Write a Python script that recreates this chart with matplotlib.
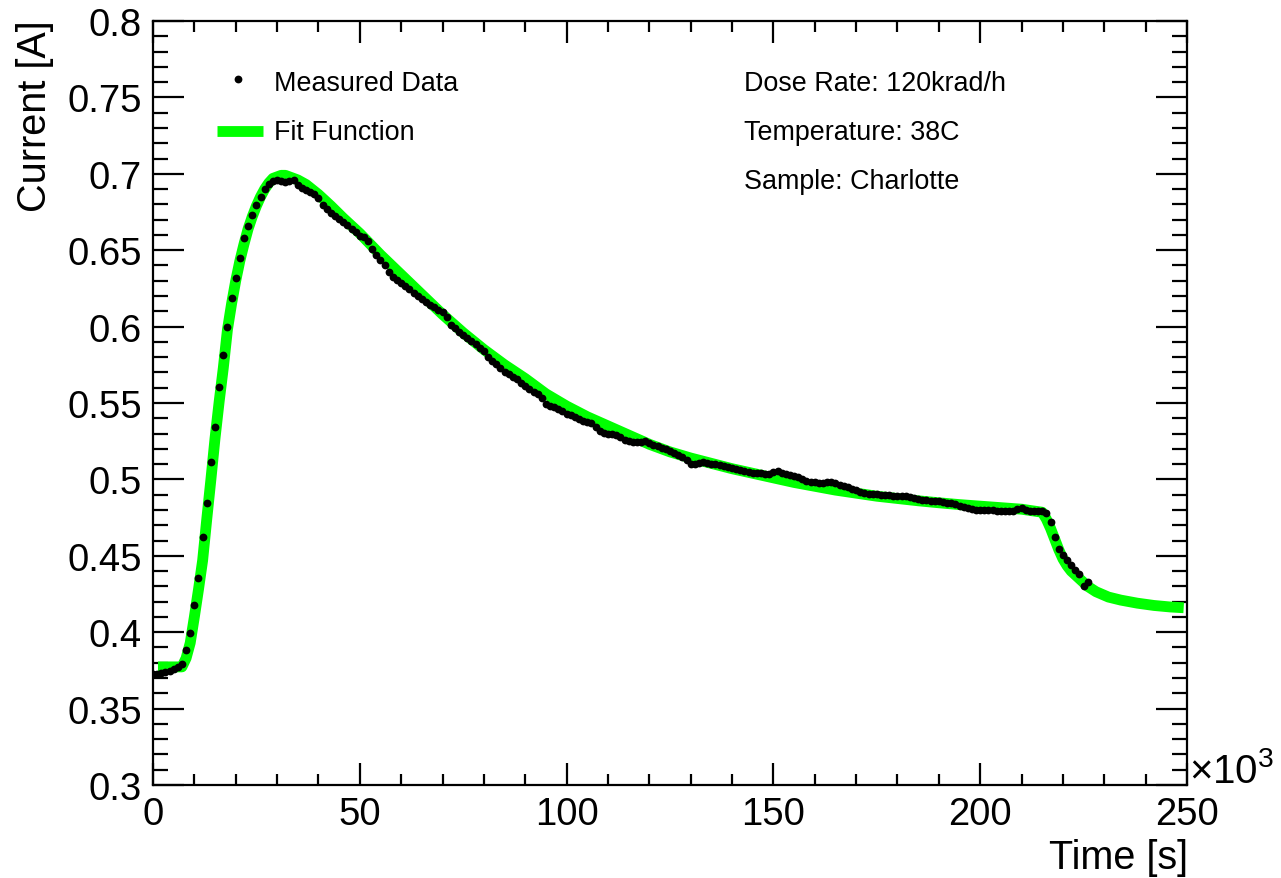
import numpy as np
import matplotlib
matplotlib.use("Agg")
import matplotlib.pyplot as plt
from matplotlib.ticker import MultipleLocator, FixedLocator, FuncFormatter
from matplotlib.lines import Line2D

plt.rcParams['font.family'] = ['Liberation Sans', 'DejaVu Sans']
plt.rcParams['mathtext.fontset'] = 'custom'
plt.rcParams['mathtext.rm'] = 'Liberation Sans'

# ---------------- data ----------------
# measured time stamps [10^3 s]
time_ks = [
    0, 1, 2, 3, 4, 5, 6, 7, 8, 9,
    10, 11, 12, 13, 14, 15, 16, 17, 18, 19,
    20, 21, 22, 23, 24, 25, 26, 27, 28, 29,
    30, 31, 32, 33, 34, 35, 36, 37, 38, 39,
    40, 41, 42, 43, 44, 45, 46, 47, 48, 49,
    50, 51, 52, 53, 54, 55, 56, 57, 58, 59,
    60, 61, 62, 63, 64, 65, 66, 67, 68, 69,
    70, 71, 72, 73, 74, 75, 76, 77, 78, 79,
    80, 81, 82, 83, 84, 85, 86, 87, 88, 89,
    90, 91, 92, 93, 94, 95, 96, 97, 98, 99,
    100, 101, 102, 103, 104, 105, 106, 107, 108, 109,
    110, 111, 112, 113, 114, 115, 116, 117, 118, 119,
    120, 121, 122, 123, 124, 125, 126, 127, 128, 129,
    130, 131, 132, 133, 134, 135, 136, 137, 138, 139,
    140, 141, 142, 143, 144, 145, 146, 147, 148, 149,
    150, 151, 152, 153, 154, 155, 156, 157, 158, 159,
    160, 161, 162, 163, 164, 165, 166, 167, 168, 169,
    170, 171, 172, 173, 174, 175, 176, 177, 178, 179,
    180, 181, 182, 183, 184, 185, 186, 187, 188, 189,
    190, 191, 192, 193, 194, 195, 196, 197, 198, 199,
    200, 201, 202, 203, 204, 205, 206, 207, 208, 209,
    210, 211, 212, 213, 214, 215, 216, 217, 218, 219,
    220, 221, 222, 223, 224, 225, 226,
]
# measured current [A]
current_A = [
    0.3725, 0.3726, 0.3731, 0.3738, 0.3748, 0.3757, 0.3772, 0.3795, 0.3885, 0.3995,
    0.4175, 0.4355, 0.4625, 0.4845, 0.5115, 0.5345, 0.5605, 0.5815, 0.6000, 0.6190,
    0.6315, 0.6452, 0.6577, 0.6658, 0.6730, 0.6795, 0.6847, 0.6900, 0.6932, 0.6952,
    0.6962, 0.6955, 0.6946, 0.6950, 0.6960, 0.6925, 0.6905, 0.6893, 0.6880, 0.6866,
    0.6840, 0.6795, 0.6768, 0.6745, 0.6726, 0.6707, 0.6686, 0.6662, 0.6641, 0.6618,
    0.6595, 0.6585, 0.6560, 0.6505, 0.6467, 0.6435, 0.6403, 0.6360, 0.6326, 0.6305,
    0.6287, 0.6268, 0.6245, 0.6222, 0.6200, 0.6178, 0.6160, 0.6142, 0.6125, 0.6108,
    0.6095, 0.6060, 0.6012, 0.5990, 0.5967, 0.5946, 0.5928, 0.5908, 0.5885, 0.5862,
    0.5838, 0.5803, 0.5775, 0.5752, 0.5728, 0.5705, 0.5688, 0.5671, 0.5655, 0.5633,
    0.5610, 0.5592, 0.5575, 0.5558, 0.5530, 0.5495, 0.5480, 0.5472, 0.5464, 0.5448,
    0.5430, 0.5420, 0.5410, 0.5396, 0.5384, 0.5376, 0.5367, 0.5345, 0.5318, 0.5306,
    0.5300, 0.5296, 0.5291, 0.5275, 0.5258, 0.5250, 0.5245, 0.5243, 0.5248, 0.5252,
    0.5240, 0.5228, 0.5218, 0.5207, 0.5196, 0.5188, 0.5175, 0.5160, 0.5147, 0.5125,
    0.5102, 0.5104, 0.5110, 0.5112, 0.5108, 0.5103, 0.5101, 0.5095, 0.5088, 0.5081,
    0.5075, 0.5067, 0.5060, 0.5055, 0.5050, 0.5045, 0.5042, 0.5040, 0.5037, 0.5035,
    0.5050, 0.5055, 0.5040, 0.5033, 0.5029, 0.5022, 0.5015, 0.5004, 0.4992, 0.4984,
    0.4980, 0.4977, 0.4978, 0.4980, 0.4981, 0.4975, 0.4965, 0.4958, 0.4948, 0.4938,
    0.4928, 0.4915, 0.4910, 0.4907, 0.4904, 0.4902, 0.4900, 0.4898, 0.4895, 0.4893,
    0.4893, 0.4893, 0.4893, 0.4888, 0.4876, 0.4870, 0.4867, 0.4863, 0.4861, 0.4861,
    0.4860, 0.4855, 0.4848, 0.4846, 0.4838, 0.4828, 0.4820, 0.4815, 0.4808, 0.4802,
    0.4800, 0.4801, 0.4802, 0.4799, 0.4796, 0.4794, 0.4792, 0.4790, 0.4795, 0.4805,
    0.4810, 0.4802, 0.4796, 0.4792, 0.4791, 0.4794, 0.4780, 0.4720, 0.4620, 0.4545,
    0.4505, 0.4470, 0.4438, 0.4405, 0.4380, 0.4300, 0.4331,
]

# fit function curve
fit_time_ks = [
    1.2, 7.0, 8.0, 9.0, 10.0, 11.0, 12.0, 13.0, 14.0, 15.0,
    16.0, 17.0, 18.0, 19.0, 20.0, 21.0, 22.0, 23.0, 24.0, 25.0,
    26.0, 27.0, 28.0, 29.0, 30.0, 31.0, 32.0, 33.0, 35.0, 37.0,
    40.0, 43.0, 46.0, 48.0, 50.0, 55.0, 60.0, 65.0, 70.0, 75.0,
    80.0, 85.0, 90.0, 95.0, 100.0, 105.0, 110.0, 115.0, 120.0, 125.0,
    130.0, 135.0, 140.0, 145.0, 150.0, 155.0, 160.0, 165.0, 170.0, 175.0,
    180.0, 185.0, 190.0, 195.0, 200.0, 205.0, 210.0, 215.0, 216.0, 217.0,
    218.0, 219.0, 220.0, 221.0, 222.0, 224.0, 226.0, 228.0, 231.0, 234.0,
    238.0, 242.0, 246.0, 249.2,
]
fit_current_A = [
    0.3773, 0.3773, 0.383, 0.393, 0.410, 0.428, 0.447, 0.474, 0.500, 0.527,
    0.551, 0.573, 0.598, 0.615, 0.630, 0.643, 0.654, 0.664, 0.672, 0.679,
    0.685, 0.690, 0.694, 0.697, 0.698, 0.699, 0.699, 0.698, 0.696, 0.693,
    0.6865, 0.679, 0.671, 0.666, 0.661, 0.647, 0.634, 0.621, 0.608, 0.596,
    0.585, 0.575, 0.566, 0.556, 0.548, 0.541, 0.535, 0.529, 0.523, 0.518,
    0.514, 0.5105, 0.507, 0.504, 0.501, 0.498, 0.4955, 0.493, 0.491, 0.489,
    0.4875, 0.486, 0.4847, 0.4835, 0.4825, 0.4815, 0.4805, 0.4785, 0.474, 0.468,
    0.461, 0.454, 0.448, 0.4435, 0.440, 0.435, 0.430, 0.4265, 0.423, 0.421,
    0.419, 0.4175, 0.4165, 0.416,
]

x_major_ticks = [0, 50, 100, 150, 200, 250]
y_major_ticks = [0.3, 0.35, 0.4, 0.45, 0.5, 0.55, 0.6, 0.65, 0.7, 0.75, 0.8]

legend_labels = ["Measured Data", "Fit Function"]
info_lines = ["Dose Rate: 120krad/h", "Temperature: 38C", "Sample: Charlotte"]

# ---------------- figure ----------------
W, H = 1281, 879
fig = plt.figure(figsize=(W / 100, H / 100), dpi=100)
ax = fig.add_axes([153 / W, 93 / H, 1034 / W, 764 / H])

ax.plot(fit_time_ks, fit_current_A, color='#00ff00', lw=7.8,
        solid_capstyle='butt', solid_joinstyle='round', zorder=2)
ax.plot(time_ks, current_A, 'o', color='black', markersize=5.6,
        markeredgewidth=0, zorder=3)

ax.set_xlim(0, 250)
ax.set_ylim(0.3, 0.8)
ax.xaxis.set_major_locator(FixedLocator(x_major_ticks))
ax.xaxis.set_minor_locator(MultipleLocator(10))
ax.yaxis.set_major_locator(FixedLocator(y_major_ticks))
ax.yaxis.set_minor_locator(MultipleLocator(0.01))
ax.yaxis.set_major_formatter(FuncFormatter(lambda v, p: f"{v:g}"))
ax.xaxis.set_major_formatter(FuncFormatter(lambda v, p: f"{v:g}"))

for s in ax.spines.values():
    s.set_linewidth(1.6)

ax.tick_params(axis='both', which='both', direction='in', top=True, right=True,
               width=1.6, labelsize=27.5)
ax.tick_params(axis='x', which='major', length=16, pad=8)
ax.tick_params(axis='x', which='minor', length=8)
ax.tick_params(axis='y', which='major', length=22, pad=8)
ax.tick_params(axis='y', which='minor', length=11)

# axis titles (ROOT style)
fig.text(35 / W, 1 - 20 / H, "Current [A]", rotation=90, ha='center', va='top',
         fontsize=28.5)
fig.text(1188 / W, 1 - 858 / H, "Time [s]", ha='right', va='center', fontsize=28.5)
fig.text(1189 / W, 1 - 772 / H, r"$\times10^{3}$", ha='left', va='center',
         fontsize=29)

# legend
fig.add_artist(Line2D([238 / W], [1 - 80 / H], marker='o', color='black',
                      markersize=5.6, markeredgewidth=0, linestyle='none',
                      transform=fig.transFigure))
fig.add_artist(Line2D([217 / W, 263 / W], [1 - 132 / H, 1 - 132 / H],
                      color='#00ff00', lw=7.8, solid_capstyle='butt',
                      transform=fig.transFigure))
fig.text(274 / W, 1 - 84 / H, legend_labels[0], ha='left', va='center', fontsize=19.4)
fig.text(274 / W, 1 - 133 / H, legend_labels[1], ha='left', va='center', fontsize=19.4)

for i, t in enumerate(info_lines):
    fig.text(744 / W, 1 - (84 + 49 * i) / H, t, ha='left', va='center', fontsize=19.4)

fig.savefig("out.png", dpi=100)
